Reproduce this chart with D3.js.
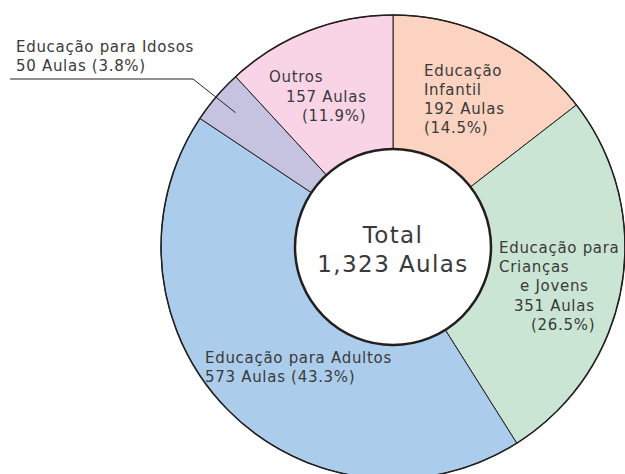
<!DOCTYPE html>
<html lang="pt">
<head>
<meta charset="UTF-8">
<title>Aulas por categoria</title>
<script src="https://d3js.org/d3.v7.min.js"></script>
<style>
  body { margin: 0; background: #fff; }
  svg text { font-family: "DejaVu Sans", sans-serif; fill: #3a3a3a; }
</style>
</head>
<body>
<svg id="chart" width="625" height="474"></svg>
<script>
// data, clockwise from 12 o'clock
const categories = ["Educação Infantil", "Educação para Crianças e Jovens", "Educação para Adultos", "Educação para Idosos", "Outros"];
const aulas = [192, 351, 573, 50, 157];
const colors = ["#fcd3c1", "#cbe5d4", "#abcdeb", "#c6c3e1", "#f9d4e6"];

// label lines as printed in the picture
const labelLines = [
  ["Educação", "Infantil"],
  ["Educação para", "Crianças", "e Jovens"],
  ["Educação para Adultos"],
  ["Educação para Idosos"],
  ["Outros"]
];

const width = 625, height = 474;
const cx = 393, cy = 247;
const outerR = 232, innerR = 98;

const total = d3.sum(aulas);
const pct = d3.format(".1f");
const num = d3.format(",");

const svg = d3.select("#chart");
const g = svg.append("g").attr("transform", `translate(${cx},${cy})`);

const pie = d3.pie().sort(null).value(d => d);
const arc = d3.arc().innerRadius(innerR).outerRadius(outerR);
const arcs = pie(aulas);

g.selectAll("path.slice")
  .data(arcs)
  .enter()
  .append("path")
  .attr("class", "slice")
  .attr("d", arc)
  .attr("fill", (d, i) => colors[i])
  .attr("stroke", "#231f20")
  .attr("stroke-width", 1);

// outer rim
g.append("circle")
  .attr("r", outerR)
  .attr("fill", "none")
  .attr("stroke", "#231f20")
  .attr("stroke-width", 1.5);

// centre hole
g.append("circle")
  .attr("r", innerR)
  .attr("fill", "#fff")
  .attr("stroke", "#231f20")
  .attr("stroke-width", 2.5);

const centre = g.append("text")
  .attr("text-anchor", "middle")
  .style("font-size", "23px")
  .style("letter-spacing", "1.4px");
centre.append("tspan").attr("x", 0).attr("y", -4).text("Total");
centre.append("tspan").attr("x", 0).attr("y", 25).text(`${num(total)} Aulas`);

// label placement (page coords): x per line, first baseline, line step
const labelLayout = [
  { x: [424, 424, 424, 424], y: 76, step: 19, oneLine: false },
  { x: [499, 499, 520, 514, 531], y: 253, step: 19.2, oneLine: false },
  { x: [205, 205], y: 363, step: 18.5, oneLine: true },
  { x: [16, 16], y: 52, step: 19, oneLine: true },
  { x: [269, 286, 302], y: 82, step: 19.5, oneLine: false }
];

aulas.forEach((v, i) => {
  const p = `(${pct(v / total * 100)}%)`;
  const lines = labelLines[i].slice();
  if (labelLayout[i].oneLine) {
    lines.push(`${v} Aulas ${p}`);
  } else {
    lines.push(`${v} Aulas`, p);
  }
  const L = labelLayout[i];
  const t = svg.append("text")
    .style("font-size", "15px")
    .style("letter-spacing", "0.7px");
  lines.forEach((s, k) => {
    t.append("tspan")
      .attr("x", L.x[k])
      .attr("y", L.y + k * L.step)
      .text(s);
  });
});

// leader line for Idosos
const idosos = arcs[3];
const mid = (idosos.startAngle + idosos.endAngle) / 2;
const tip = [cx + Math.sin(mid) * 207, cy - Math.cos(mid) * 207];
svg.append("polyline")
  .attr("points", [[10, 79], [193, 79], tip].map(p => p.join(",")).join(" "))
  .attr("fill", "none")
  .attr("stroke", "#231f20")
  .attr("stroke-width", 1);
</script>
</body>
</html>
